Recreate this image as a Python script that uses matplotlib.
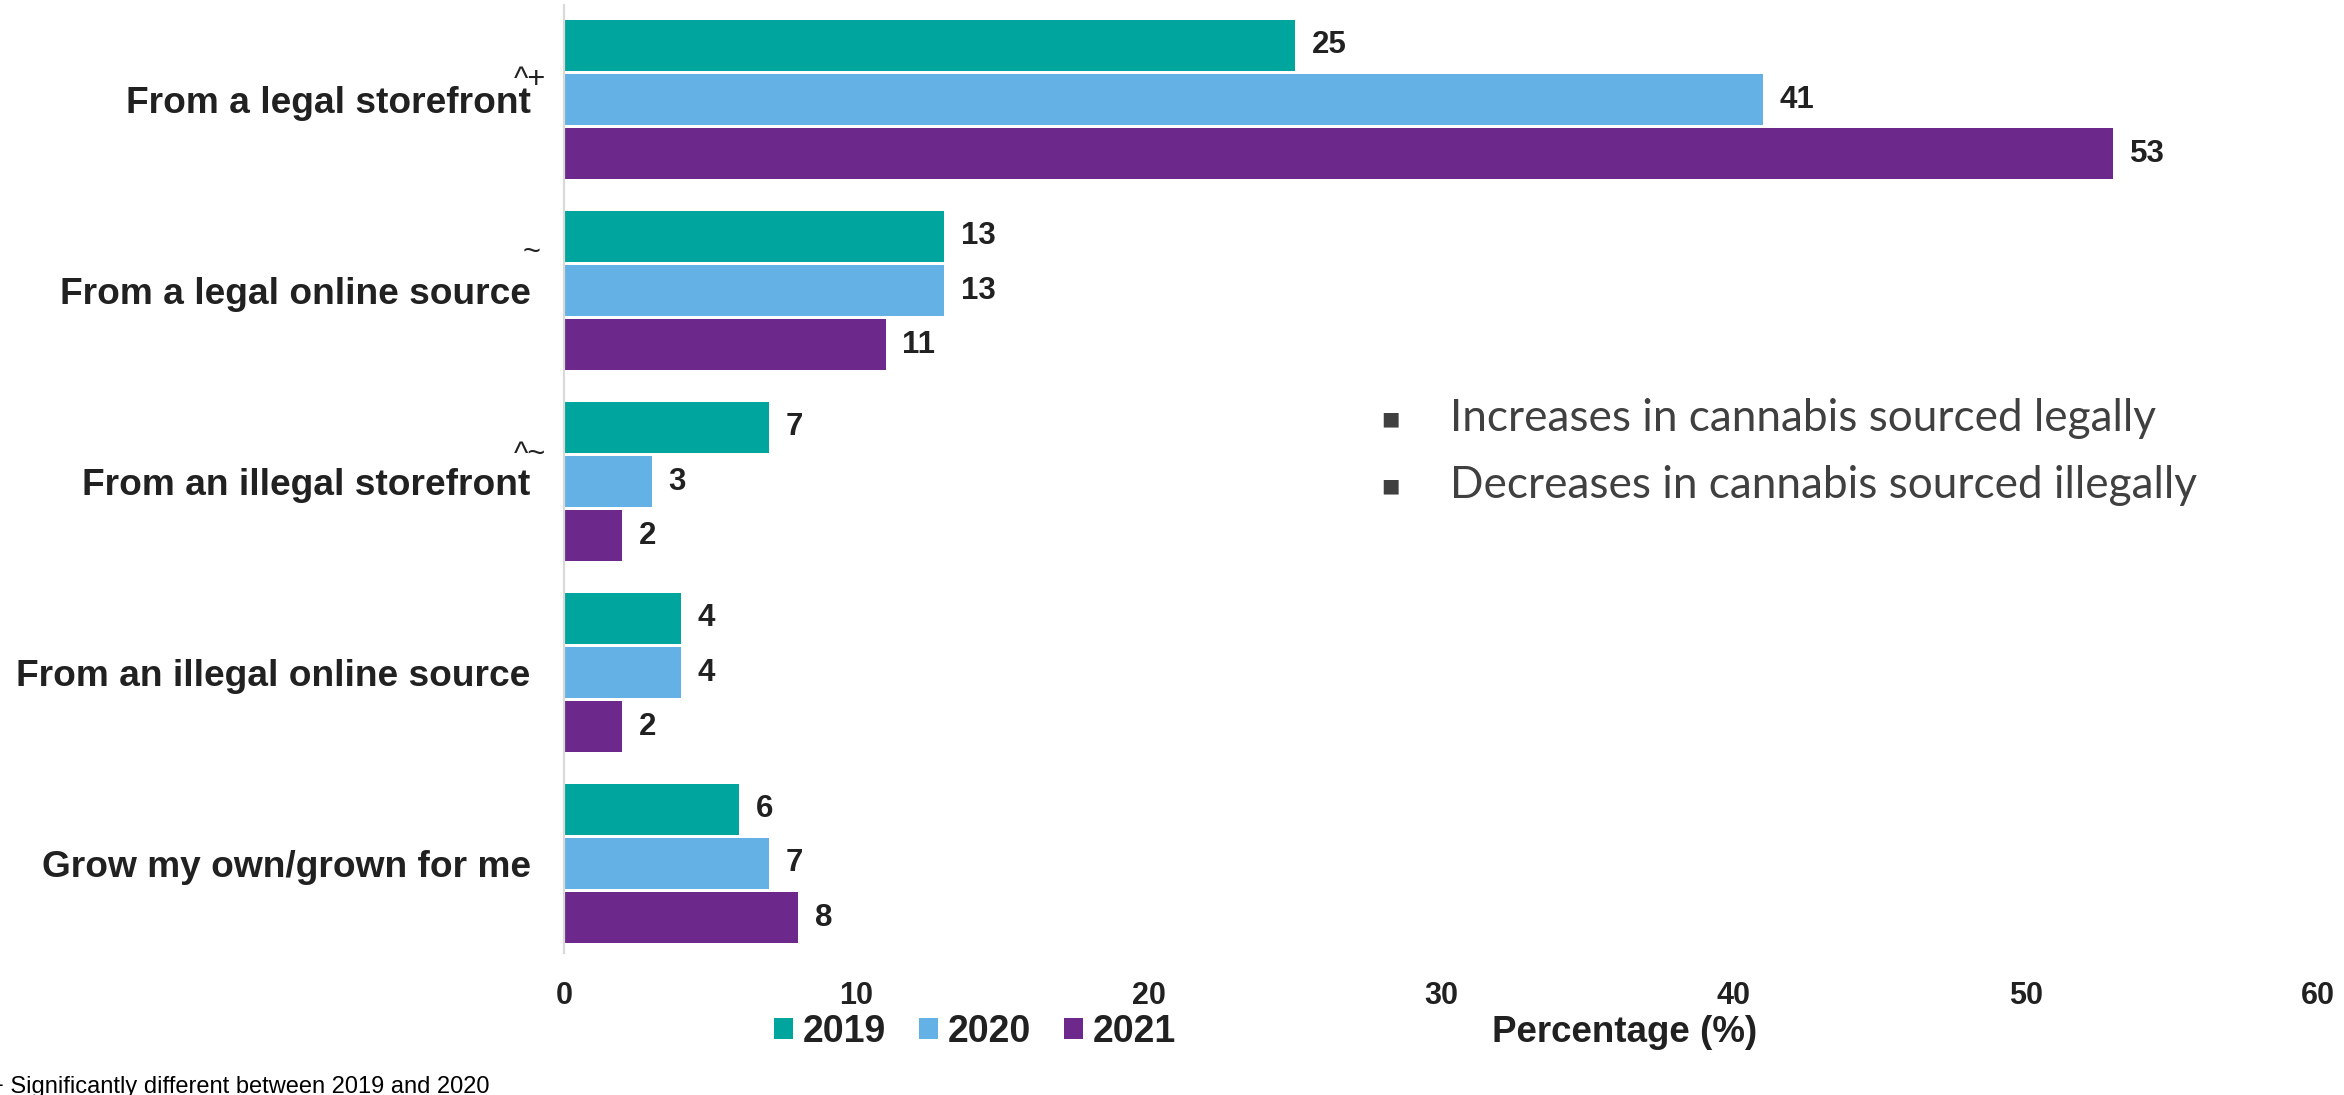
import matplotlib
matplotlib.use("Agg")
import matplotlib.pyplot as plt
import numpy as np
from matplotlib.patches import Patch

categories = [
    "From a legal storefront",
    "From a legal online source",
    "From an illegal storefront",
    "From an illegal online source",
    "Grow my own/grown for me",
]
sig_marks = ["^+", "~", "^~", "", ""]
years = ["2019", "2020", "2021"]
values_2019 = [25, 13, 7, 4, 6]
values_2020 = [41, 13, 3, 4, 7]
values_2021 = [53, 11, 2, 2, 8]
x_ticks = [0, 10, 20, 30, 40, 50, 60]
notes = ["Increases in cannabis sourced legally", "Decreases in cannabis sourced illegally"]
footnote = "+ Significantly different between 2019 and 2020"

colors = ["#00A59D", "#63B1E5", "#6C298B"]
dark = "#212121"

plt.rcParams["font.family"] = ["Liberation Sans", "DejaVu Sans"]

W, H = 2344, 1095
fig = plt.figure(figsize=(W / 100, H / 100), dpi=100)
ax = fig.add_axes([564 / W, 1 - 953 / H, (2318 - 564) / W, (953 - 5) / H])

y = np.arange(len(categories))
step = 0.283
bar_h = 0.267
series = [values_2019, values_2020, values_2021]
for k, (vals, col) in enumerate(zip(series, colors)):
    pos = y + (k - 1) * step
    ax.barh(pos, vals, height=bar_h, color=col, edgecolor="none")
    for p, v in zip(pos, vals):
        ax.annotate(str(v), xy=(v, p), xytext=(12, 0), textcoords="offset points",
                    ha="left", va="center", fontsize=22.5, fontweight="bold", color=dark)

ax.set_xlim(0, 60)
ax.set_ylim(4.4686, -0.4948)
ax.set_xticks(x_ticks)
ax.set_xticklabels([str(t) for t in x_ticks], fontsize=22, fontweight="bold", color=dark)
ax.set_yticks(y)
ax.set_yticklabels(categories, fontsize=26.7, fontweight="bold", color=dark)
ax.tick_params(axis="both", length=0)
ax.tick_params(axis="y", pad=24)
ax.tick_params(axis="x", pad=20)
for s in ["top", "right", "bottom"]:
    ax.spines[s].set_visible(False)
ax.spines["left"].set_color("#d9d9d9")
ax.spines["left"].set_linewidth(1.6)

# significance markers next to the category labels
mark_offsets = [(-36, 8), (-30, 21), (-36, 13)]
for i, m in enumerate(sig_marks):
    if not m:
        continue
    dx, dy = mark_offsets[i]
    ax.annotate(m, xy=(0, i), xytext=(dx, dy), textcoords="offset points",
                ha="left", va="baseline", fontsize=22, color=dark, annotation_clip=False)

# notes on the right
for j, t in enumerate(notes):
    yy = 1 - (419 + j * 67) / H
    fig.text(1390 / W, yy, "\u25A0", fontsize=14, color="#404040", ha="center", va="center",
             family="DejaVu Sans")
    fig.text(1450 / W, yy, t, fontsize=31.8, color="#404040", ha="left", va="center", family="Lato")

# legend and axis title along the bottom
handles = [Patch(facecolor=c, edgecolor="none") for c in colors]
fig.legend(handles, years, loc="center", bbox_to_anchor=(975 / W, 1 - 1032 / H), ncol=3,
           frameon=False, prop={"size": 27, "weight": "bold"}, handlelength=0.5,
           handleheight=0.5, handletextpad=0.25, columnspacing=0.9, labelcolor=dark)
fig.text(1625 / W, 1 - 1032 / H, "Percentage (%)", fontsize=26.5, fontweight="bold",
         color=dark, ha="center", va="center")

fig.text(-10 / W, 1 - 1093 / H, footnote, fontsize=17, color="black", ha="left", va="baseline")

fig.savefig("out.png", dpi=100)
